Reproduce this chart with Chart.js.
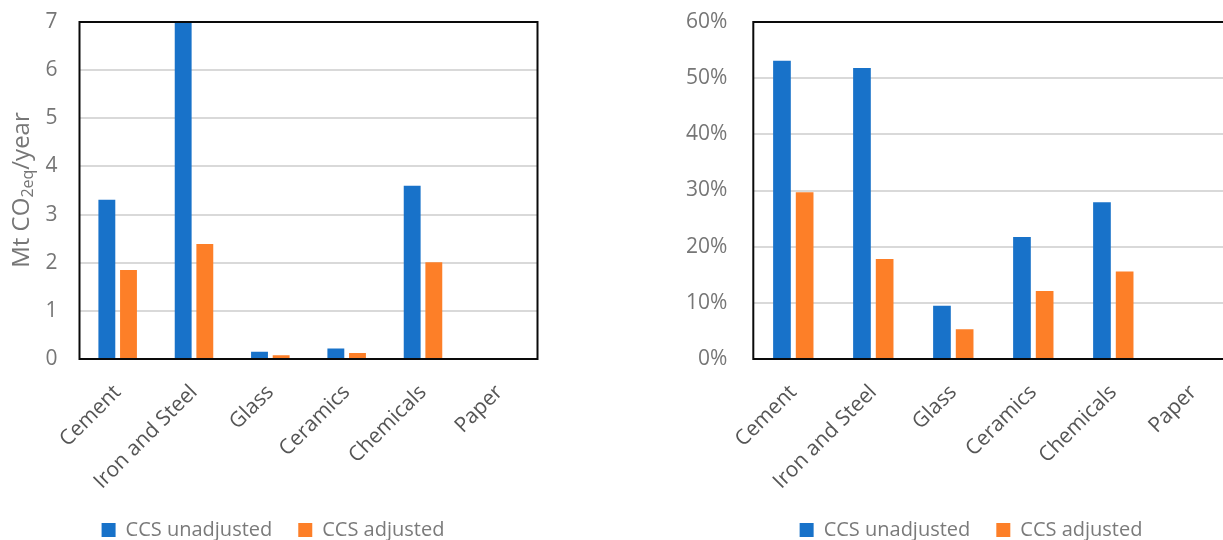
<!DOCTYPE html>
<html>
<head>
<meta charset="utf-8">
<title>CCS emissions by sector</title>
<script src="https://cdn.jsdelivr.net/npm/chart.js@4/dist/chart.umd.min.js"></script>
<style>
  html, body { margin: 0; padding: 0; background: #ffffff; }
  body { width: 1223px; height: 540px; overflow: hidden; position: relative; }
  canvas { position: absolute; top: 0; }
  #emissions { left: 0; }
  #share { left: 670px; }
</style>
</head>
<body>
<canvas id="emissions" width="546" height="550"></canvas>
<canvas id="share" width="564" height="550"></canvas>
<script>
// Sectors on the category axis
const categories = ['Cement', 'Iron and Steel', 'Glass', 'Ceramics', 'Chemicals', 'Paper'];
const seriesNames = ['CCS unadjusted', 'CCS adjusted'];

// Left panel: captured emissions, Mt CO2eq per year
const emissionsUnadjusted = [3.31, 7.0, 0.15, 0.22, 3.6, 0];
const emissionsAdjusted   = [1.85, 2.39, 0.08, 0.125, 2.01, 0];
const emissionTicks = [0, 1, 2, 3, 4, 5, 6, 7];

// Right panel: share of sector emissions, percent
const shareUnadjusted = [53.1, 51.8, 9.5, 21.7, 27.9, 0];
const shareAdjusted   = [29.7, 17.8, 5.3, 12.1, 15.6, 0];
const shareTicks = [0, 10, 20, 30, 40, 50, 60];

const BLUE = '#1872c9';
const ORANGE = '#fd7f28';
const FONT = "'Open Sans', 'Noto Sans', sans-serif";

// Black frame round the plot area, drawn over the bars
const framePlugin = {
  id: 'plotFrame',
  afterDatasetsDraw(chart) {
    const a = chart.chartArea;
    const ctx = chart.ctx;
    ctx.save();
    ctx.strokeStyle = '#0a0a0a';
    ctx.lineWidth = 2;
    ctx.strokeRect(a.left, a.top, a.right - a.left, a.bottom - a.top);
    ctx.restore();
  }
};

// Moves the legend sideways by a fixed amount after layout
const legendShiftPlugin = {
  id: 'legendShift',
  afterLayout(chart, args, opts) {
    const d = opts.dx || 0;
    if (chart.legend && d) {
      chart.legend.left += d;
      chart.legend.right += d;
    }
  }
};

// Vertical axis title with a subscripted "2eq"
const emissionTitlePlugin = {
  id: 'emissionTitle',
  afterDraw(chart) {
    const ctx = chart.ctx;
    const parts = [
      { text: 'Mt CO', size: 24, shift: 0 },
      { text: '2eq', size: 16, shift: 6 },
      { text: '/year', size: 24, shift: 0 }
    ];
    ctx.save();
    ctx.fillStyle = '#767676';
    ctx.textBaseline = 'middle';
    ctx.textAlign = 'left';
    let total = 0;
    parts.forEach(p => {
      ctx.font = p.size + 'px ' + FONT;
      p.width = ctx.measureText(p.text).width;
      total += p.width;
    });
    ctx.translate(22, 190);
    ctx.rotate(-Math.PI / 2);
    let x = -total / 2;
    parts.forEach(p => {
      ctx.font = p.size + 'px ' + FONT;
      ctx.fillText(p.text, x, p.shift);
      x += p.width;
    });
    ctx.restore();
  }
};

function makeChart(id, cfg) {
  return new Chart(document.getElementById(id), {
    type: 'bar',
    data: {
      labels: categories,
      datasets: [
        { label: seriesNames[0], data: cfg.first, backgroundColor: BLUE,
          categoryPercentage: 0.567, barPercentage: 0.78 },
        { label: seriesNames[1], data: cfg.second, backgroundColor: ORANGE,
          categoryPercentage: 0.567, barPercentage: 0.78 }
      ]
    },
    options: {
      responsive: false,
      animation: false,
      layout: { padding: { left: cfg.padLeft, right: cfg.padRight, top: 22, bottom: 0 } },
      plugins: {
        tooltip: { enabled: false },
        legendShift: { dx: cfg.legendDx },
        legend: {
          position: 'bottom',
          align: 'center',
          labels: {
            boxWidth: 14,
            boxHeight: 14,
            padding: 26,
            color: '#7a7a7a',
            font: { family: FONT, size: 20 }
          }
        }
      },
      scales: {
        x: {
          grid: { display: false, drawTicks: false },
          border: { display: false },
          ticks: {
            minRotation: 45,
            maxRotation: 45,
            padding: 21,
            autoSkip: false,
            color: '#555555',
            font: { family: FONT, size: 21 }
          },
          afterFit(scale) { scale.height = 135; }
        },
        y: {
          min: 0,
          max: cfg.max,
          afterBuildTicks(scale) { scale.ticks = cfg.ticks.map(v => ({ value: v })); },
          grid: { color: '#d9d9d9', lineWidth: 2, drawTicks: false },
          border: { display: false },
          ticks: {
            padding: cfg.tickPad,
            color: '#767676',
            font: { family: FONT, size: 21 },
            callback: cfg.format
          },
          afterFit(scale) {
            scale.width = cfg.axisWidth;
            scale.paddingTop = 0;
            scale.paddingBottom = 0;
          }
        }
      }
    },
    plugins: cfg.plugins.concat([legendShiftPlugin])
  });
}

makeChart('emissions', {
  first: emissionsUnadjusted,
  second: emissionsAdjusted,
  max: 7,
  ticks: emissionTicks,
  format: v => String(v),
  padLeft: 8.5,
  padRight: 8.5,
  axisWidth: 71,
  tickPad: 22,
  legendDx: 0,
  plugins: [framePlugin, emissionTitlePlugin]
});

makeChart('share', {
  first: shareUnadjusted,
  second: shareAdjusted,
  max: 60,
  ticks: shareTicks,
  format: v => v + '%',
  padLeft: 0,
  padRight: 0.7,
  axisWidth: 83.3,
  tickPad: 26,
  legendDx: 19.4,
  plugins: [framePlugin]
});
</script>
</body>
</html>
